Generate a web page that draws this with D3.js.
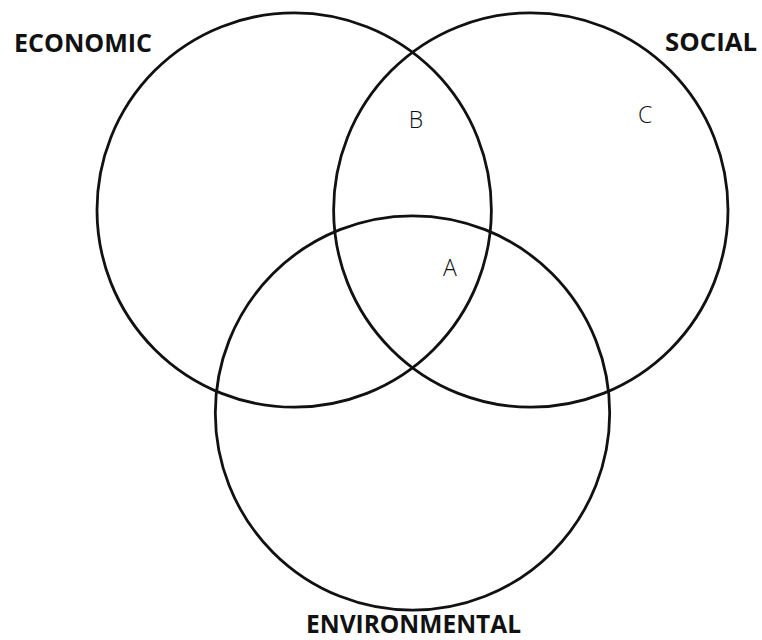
<!DOCTYPE html>
<html>
<head>
<meta charset="utf-8">
<script src="https://cdn.jsdelivr.net/npm/d3@7"></script>
<style>
  html, body { margin: 0; padding: 0; background: #fff; }
  svg { display: block; }
</style>
</head>
<body>
<div id="chart"></div>
<script>
// Venn sets, centres in units of one circle radius
const setNames = ["ECONOMIC", "SOCIAL", "ENVIRONMENTAL"];
const setCx = [0, 1.2, 0.6];
const setCy = [0, 0, 1.03];
const setR = 1;

// region letters (data units, y = text baseline)
const regionNames = ["A", "B", "C"];
const regionX = [0.79, 0.617, 1.78];
const regionY = [0.335, -0.415, -0.44];

const width = 762, height = 640;

const svg = d3.select("#chart").append("svg")
    .attr("width", width)
    .attr("height", height);

const x = d3.scaleLinear().domain([-1, 2.2]).range([97, 728]);
const y = d3.scaleLinear().domain([-1, 2.03]).range([13, 610]);
const rPx = x(setR) - x(0);

const sets = setNames.map((name, i) => ({name, cx: setCx[i], cy: setCy[i]}));

svg.append("g")
    .selectAll("circle")
    .data(sets)
    .enter().append("circle")
    .attr("cx", d => x(d.cx))
    .attr("cy", d => y(d.cy))
    .attr("r", rPx)
    .style("fill", "none")
    .style("stroke", "#111")
    .style("stroke-width", 2.8);

// region letters
svg.append("g")
    .selectAll("text")
    .data(regionNames.map((t, i) => ({t, x: regionX[i], y: regionY[i]})))
    .enter().append("text")
    .attr("x", d => x(d.x))
    .attr("y", d => y(d.y))
    .attr("text-anchor", "middle")
    .style("font-family", "'Open Sans', sans-serif")
    .style("font-size", "23px")
    .style("font-weight", 300)
    .style("fill", "#111")
    .text(d => d.t);

// set titles
const titleStyle = sel => sel
    .style("font-family", "'Open Sans', sans-serif")
    .style("font-size", "25px")
    .style("font-weight", 700)
    .style("fill", "#111");

svg.append("text")
    .attr("x", 14).attr("y", 52)
    .attr("textLength", 138).attr("lengthAdjust", "spacingAndGlyphs")
    .call(titleStyle)
    .text(sets[0].name);

svg.append("text")
    .attr("x", 665).attr("y", 51)
    .attr("textLength", 92).attr("lengthAdjust", "spacingAndGlyphs")
    .call(titleStyle)
    .text(sets[1].name);

svg.append("text")
    .attr("x", 306).attr("y", 633)
    .attr("textLength", 215).attr("lengthAdjust", "spacingAndGlyphs")
    .call(titleStyle)
    .text(sets[2].name);
</script>
</body>
</html>
